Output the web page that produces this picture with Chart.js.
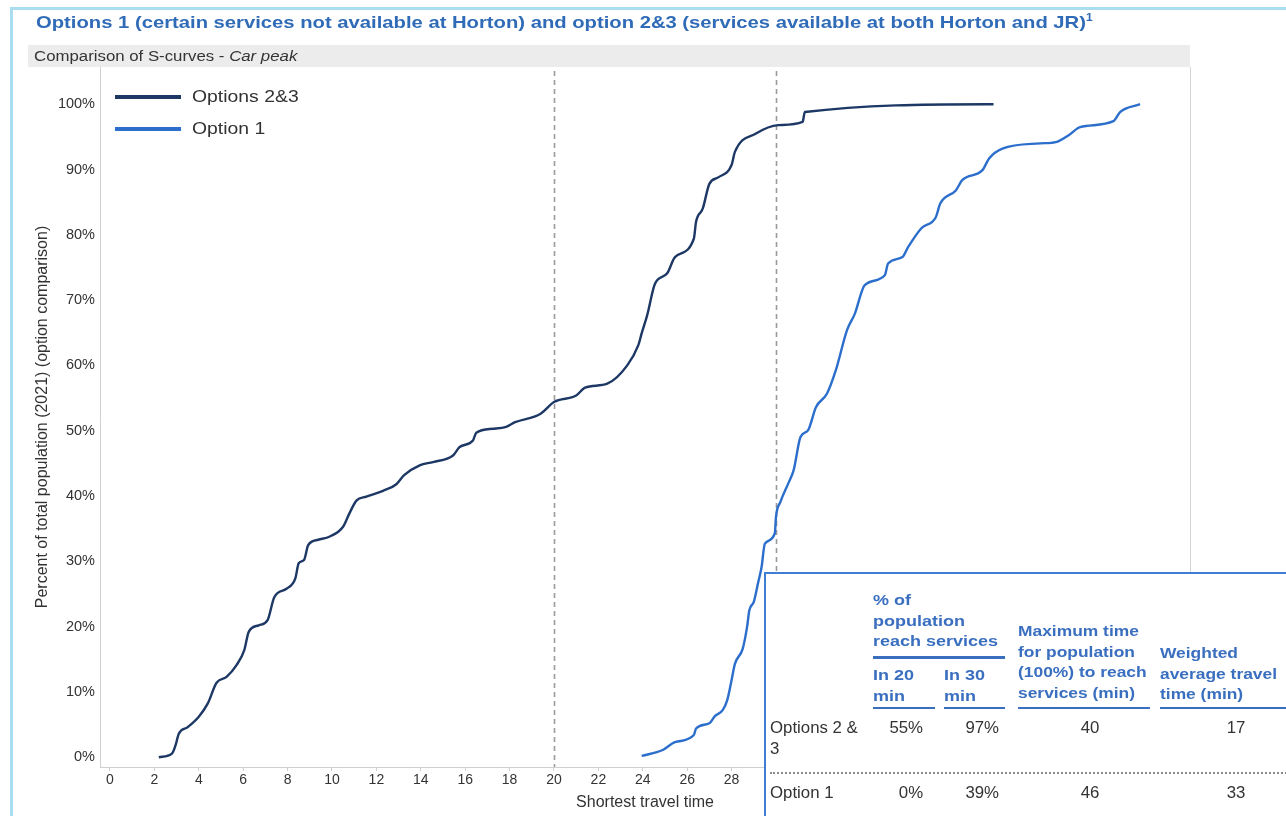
<!DOCTYPE html>
<html>
<head>
<meta charset="utf-8">
<script src="https://cdn.jsdelivr.net/npm/chart.js@4.4.1/dist/chart.umd.min.js"></script>
<style>
  html, body { margin: 0; padding: 0; background: #fff; overflow: hidden; }
  #wrap { position: relative; width: 1286px; height: 816px; overflow: hidden; font-family: "Liberation Sans", Arial, sans-serif; }
  #frame { position: absolute; left: 10px; top: 7px; width: 1320px; height: 840px; border: 3px solid #a9ddef; box-sizing: border-box; }
  #title { position: absolute; left: 36px; top: 12px; font-size: 17px; font-weight: bold; color: #2f6bb7; white-space: nowrap; transform-origin: left top; transform: scaleX(1.19); }
  #title sup { font-size: 10px; }
  #band { position: absolute; left: 28px; top: 45px; width: 1162px; height: 22px; background: #ececec; }
  #band span { position: absolute; left: 6px; top: 3px; font-size: 14px; color: #333; white-space: nowrap; transform-origin: left top; transform: scaleX(1.2); }
  #chart { position: absolute; left: 0; top: 0; }
  #legend { position: absolute; left: 115px; top: 84px; }
  .lg { position: relative; height: 32px; }
  .lg i { position: absolute; left: 0; top: 11px; width: 66px; height: 4px; }
  .lg span { position: absolute; left: 77px; top: 3px; font-size: 17px; color: #333; white-space: nowrap; transform-origin: left top; transform: scaleX(1.14); }
  #tbl { position: absolute; left: 764px; top: 572px; width: 560px; height: 280px; border: 2.5px solid #3d7fd0; background: #fff; box-sizing: border-box; }
  .t { position: absolute; white-space: pre; line-height: 20.5px; }
  .h { color: #3a6fc0; font-weight: bold; font-size: 15px; }
  .b { color: #333; font-size: 16px; }
  .ul { position: absolute; height: 1.5px; background: #3a6fc0; }
</style>
</head>
<body>
<div id="wrap">
  <canvas id="chart" width="1286" height="816"></canvas>
  <div id="frame"></div>
  <div id="title">Options 1 (certain services not available at Horton) and option 2&amp;3 (services available at both Horton and JR)<sup>1</sup></div>
  <div id="band"><span>Comparison of S-curves - <i>Car peak</i></span></div>
  <div id="legend"></div>
  <div id="tbl"></div>
</div>
<script>
// S-curve data: travel time (min) vs cumulative % of population
const opt23X = [2.2, 2.8, 2.95, 3.1, 3.5, 4.0, 4.4, 4.8, 5.25, 5.7, 6.05, 6.25, 6.7, 7.1, 7.4, 7.95, 8.35, 8.5, 8.74, 8.93, 9.38, 9.9, 10.5, 10.78, 11.1, 11.55, 12.3, 12.9, 13.25, 13.95, 14.55, 15.45, 15.75, 16.35, 16.5, 17.25, 17.85, 18.25, 19.4, 20.0, 21.0, 21.4, 22.4, 23.3, 23.8, 23.95, 24.2, 24.55, 25.1, 25.45, 26.3, 26.4, 26.7, 27.0, 27.4, 28.0, 28.15, 29.1, 30.1, 31.2, 31.3, 39.8];
const opt23Y = [0, 0.6, 1.8, 3.6, 4.6, 6.2, 8.2, 11.4, 12.3, 14.1, 16.4, 19.2, 20.2, 21.0, 24.5, 25.8, 27.4, 29.7, 30.2, 32.5, 33.3, 33.8, 35.3, 37.3, 39.3, 39.9, 40.8, 41.8, 43.2, 44.7, 45.2, 46.2, 47.5, 48.5, 49.7, 50.3, 50.6, 51.3, 52.6, 54.4, 55.4, 56.6, 57.2, 60.0, 63.1, 64.9, 67.7, 72.5, 74.1, 76.6, 79.4, 82.0, 84.0, 87.8, 88.8, 90.7, 92.7, 95.5, 96.8, 97.3, 98.8, 100];
const opt1X = [23.95, 24.9, 25.45, 26.3, 26.4, 27.0, 27.25, 27.6, 27.8, 28.0, 28.15, 28.5, 28.7, 28.8, 29.0, 29.2, 29.35, 29.5, 29.95, 30.0, 30.2, 30.55, 30.8, 31.1, 31.45, 31.8, 32.3, 32.7, 33.2, 33.55, 34.0, 34.9, 35.05, 35.7, 35.95, 36.55, 37.2, 37.4, 38.1, 38.4, 39.3, 39.6, 40.2, 41.9, 42.6, 43.2, 43.7, 45.2, 45.5, 46.4];
const opt1Y = [0.2, 1.1, 2.3, 3.4, 4.4, 5.2, 6.3, 7.2, 8.7, 11.8, 14.3, 16.6, 20.0, 22.5, 23.8, 26.8, 29.1, 32.7, 34.3, 36.8, 39.1, 41.9, 44.0, 49.0, 50.1, 53.6, 55.7, 59.3, 65.4, 67.9, 72.3, 73.8, 75.6, 76.6, 78.1, 81.0, 82.7, 84.8, 86.8, 88.4, 89.9, 91.7, 93.2, 94.0, 94.2, 95.3, 96.5, 97.4, 98.8, 100];
const seriesNames = ["Options 2&3", "Option 1"];
const xTicks = [0, 2, 4, 6, 8, 10, 12, 14, 16, 18, 20, 22, 24, 26, 28, 30, 32, 34, 36, 38, 40, 42, 44, 46, 48];
const yTicks = [0, 10, 20, 30, 40, 50, 60, 70, 80, 90, 100];
const markerTimes = [20, 30];

// summary table
const tableRows = ["Options 2 &\n3", "Option 1"];
const in20 = ["55%", "0%"];
const in30 = ["97%", "39%"];
const maxTime = ["40", "46"];
const avgTime = ["17", "33"];

const toPts = (xs, ys) => xs.map((x, i) => ({ x: x, y: ys[i] }));

const plotFrame = {
  id: "plotFrame",
  beforeDatasetsDraw(chart) {
    const { ctx, chartArea: a, scales } = chart;
    ctx.save();
    ctx.strokeStyle = "#d4d4d4";
    ctx.lineWidth = 1;
    ctx.beginPath();
    ctx.moveTo(a.right + 0.5, a.top);
    ctx.lineTo(a.right + 0.5, a.bottom);
    ctx.stroke();
    // dashed reference lines at 20 and 30 min
    ctx.strokeStyle = "#9a9a9a";
    ctx.lineWidth = 1.6;
    ctx.setLineDash([5, 4]);
    markerTimes.forEach(t => {
      const x = Math.round(scales.x.getPixelForValue(t)) + 0.5;
      ctx.beginPath();
      ctx.moveTo(x, a.top + 4);
      ctx.lineTo(x, a.bottom);
      ctx.stroke();
    });
    ctx.restore();
  }
};

const chart = new Chart(document.getElementById("chart"), {
  type: "line",
  data: {
    datasets: [
      {
        label: seriesNames[0],
        data: toPts(opt23X, opt23Y),
        borderColor: "#1d3865",
        borderWidth: 2.4,
        pointRadius: 0,
        cubicInterpolationMode: "monotone",
      },
      {
        label: seriesNames[1],
        data: toPts(opt1X, opt1Y),
        borderColor: "#2c6ecb",
        borderWidth: 2.4,
        pointRadius: 0,
        cubicInterpolationMode: "monotone",
      },
    ],
  },
  options: {
    responsive: false,
    animation: false,
    layout: { padding: { left: 28, top: 67, right: 96, bottom: 0 } },
    plugins: {
      legend: { display: false },
      tooltip: { enabled: false },
    },
    scales: {
      x: {
        type: "linear",
        min: -0.45,
        max: 48.65,
        afterBuildTicks: (s) => { s.ticks = xTicks.map(v => ({ value: v })); },
        afterFit: (s) => { s.height = 49; },
        ticks: { color: "#333", font: { family: "Liberation Sans", size: 14 }, padding: 1, maxRotation: 0, autoSkip: false },
        grid: { drawOnChartArea: false, drawTicks: true, tickLength: 4, color: "#cfcfcf" },
        border: { display: true, color: "#cfcfcf" },
        title: { display: true, text: "Shortest travel time", color: "#333", font: { family: "Liberation Sans", size: 16 }, padding: { top: 0, bottom: 4 } },
      },
      y: {
        type: "linear",
        min: -1.5,
        max: 105.7,
        afterBuildTicks: (s) => { s.ticks = yTicks.map(v => ({ value: v })); },
        afterFit: (s) => { s.width = 72; },
        ticks: { color: "#333", font: { family: "Liberation Sans", size: 14.5 }, padding: 5, callback: v => v + "%" },
        grid: { drawOnChartArea: false, drawTicks: false },
        border: { display: true, color: "#cfcfcf" },
        title: { display: true, text: "Percent of total population (2021) (option comparison)", color: "#333", font: { family: "Liberation Sans", size: 16 }, padding: { top: 5, bottom: 0 } },
      },
    },
  },
  plugins: [plotFrame],
});

// legend built from the datasets
const legend = document.getElementById("legend");
chart.data.datasets.forEach(ds => {
  const row = document.createElement("div");
  row.className = "lg";
  row.innerHTML = '<i style="background:' + ds.borderColor + '"></i><span></span>';
  row.querySelector("span").textContent = ds.label;
  legend.appendChild(row);
});

// summary table (page coordinates minus table origin)
const tbl = document.getElementById("tbl");
function put(cls, text, x, y, align, sx) {
  const d = document.createElement("div");
  d.className = "t " + cls;
  d.textContent = text;
  d.style.top = (y - 574) + "px";
  if (align === "right") { d.style.right = (560 - (x - 764)) + "px"; d.style.textAlign = "right"; d.style.transformOrigin = "right top"; }
  else if (align === "center") { d.style.left = (x - 764 - 60) + "px"; d.style.width = "120px"; d.style.textAlign = "center"; d.style.transformOrigin = "center top"; }
  else { d.style.left = (x - 766) + "px"; d.style.transformOrigin = "left top"; }
  d.style.transform = "scaleX(" + sx + ")";
  tbl.appendChild(d);
}
function line(x1, x2, y, h) {
  const d = document.createElement("div");
  d.className = "ul";
  d.style.left = (x1 - 766) + "px";
  d.style.width = (x2 - x1) + "px";
  d.style.top = (y - 574) + "px";
  d.style.height = h + "px";
  tbl.appendChild(d);
}
put("h", "% of\npopulation\nreach services", 873, 590, "left", 1.2);
line(873, 1005, 656, 3);
put("h", "In 20\nmin", 873, 665, "left", 1.2);
put("h", "In 30\nmin", 944, 665, "left", 1.2);
put("h", "Maximum time\nfor population\n(100%) to reach\nservices (min)", 1018, 621, "left", 1.16);
put("h", "Weighted\naverage travel\ntime (min)", 1160, 643, "left", 1.16);
line(873, 935, 707, 1.5);
line(944, 1005, 707, 1.5);
line(1018, 1150, 707, 1.5);
line(1160, 1300, 707, 1.5);
const rowY = [718, 783];
tableRows.forEach((r, i) => {
  put("b", r, 770, rowY[i], "left", 1.05);
  put("b", in20[i], 925, rowY[i], "right", 1.05);
  put("b", in30[i], 1001, rowY[i], "right", 1.05);
  put("b", maxTime[i], 1088, rowY[i], "center", 1.05);
  put("b", avgTime[i], 1234, rowY[i], "center", 1.05);
});
const dots = document.createElement("div");
dots.style.cssText = "position:absolute;left:4px;top:" + (772 - 574) + "px;width:540px;border-top:2px dotted #8a8a8a;";
tbl.appendChild(dots);
</script>
</body>
</html>
